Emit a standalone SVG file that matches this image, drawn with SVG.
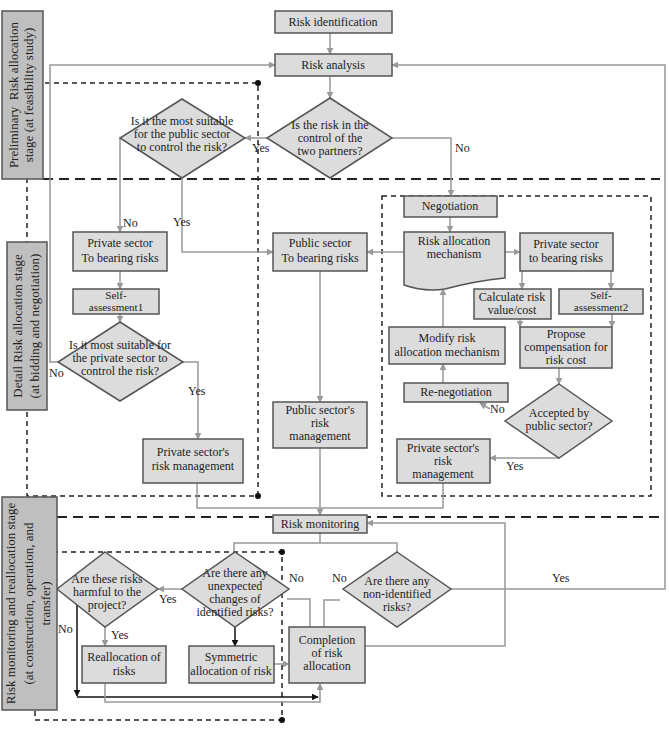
<svg xmlns="http://www.w3.org/2000/svg" width="669" height="737" viewBox="0 0 669 737">
<style>
.n{fill:#dcdcdc;stroke:#555;stroke-width:1.5}
.s{fill:#bfbfbf;stroke:#555;stroke-width:1.5}
.t{font-family:"Liberation Serif","Times New Roman",serif;font-size:12px;fill:#222;text-anchor:middle}
.ts{font-size:11px}
.st{font-family:"Liberation Serif","Times New Roman",serif;font-size:13px;fill:#222;text-anchor:middle}
.l{font-family:"Liberation Serif","Times New Roman",serif;font-size:12px;fill:#222}
.c{fill:none;stroke:#999;stroke-width:1.5}
.a{marker-end:url(#ag)}
.k{fill:none;stroke:#111;stroke-width:1.5;marker-end:url(#ak)}
.big{fill:none;stroke:#222;stroke-width:2;stroke-dasharray:10 6}
.sm{fill:none;stroke:#222;stroke-width:1.5;stroke-dasharray:5 4}
</style>
<defs>
<marker id="ag" viewBox="0 0 10 10" refX="9" refY="5" markerWidth="7" markerHeight="7" markerUnits="userSpaceOnUse" orient="auto"><path d="M0,0L10,5L0,10Z" fill="#999"/></marker>
<marker id="ak" viewBox="0 0 10 10" refX="9" refY="5" markerWidth="7" markerHeight="7" markerUnits="userSpaceOnUse" orient="auto"><path d="M0,0L10,5L0,10Z" fill="#111"/></marker>
</defs>
<rect width="669" height="737" fill="#fff"/>
<g id="frames">
<line class="big" x1="43" y1="179" x2="660" y2="179"/>
<line class="big" x1="57" y1="517" x2="660" y2="517"/>
<rect class="sm" x="27" y="83" width="231" height="413"/>
<rect class="sm" x="382" y="196" width="269" height="300"/>
<rect class="sm" x="35" y="552" width="247" height="168"/>
<circle cx="258" cy="83" r="3" fill="#111"/>
<circle cx="258" cy="496" r="3" fill="#111"/>
<circle cx="282" cy="552" r="3" fill="#111"/>
<circle cx="282" cy="720" r="3" fill="#111"/>
</g>
<g id="connectors">
<path class="c a" d="M330,33V54"/>
<path class="c a" d="M330,76V98"/>
<path class="c a" d="M267,138H245"/>
<path class="c a" d="M392,138H451V196"/>
<path class="c a" d="M120,138V232"/>
<path class="c a" d="M182,178V252H273"/>
<path class="c a" d="M404,252H367"/>
<path class="c a" d="M505,252H520"/>
<path class="c a" d="M450,217V232"/>
<path class="c a" d="M522,271V289"/>
<path class="c a" d="M611,271V289"/>
<path class="c a" d="M520,319V327"/>
<path class="c a" d="M612,314V327"/>
<path class="c a" d="M559,368V384"/>
<path class="c a" d="M443,327V289"/>
<path class="c a" d="M443,383V364"/>
<path class="c a" d="M490,409L480,403"/>
<path class="c a" d="M559,458H490"/>
<path class="c" d="M443,483V508H320"/>
<path class="c" d="M197,483V508H320"/>
<path class="c a" d="M320,271V402"/>
<path class="c a" d="M320,448V515"/>
<path class="c a" d="M120,271V289"/>
<path class="c a" d="M120,314V322"/>
<path class="c a" d="M183,362H198V439"/>
<path class="c a" d="M58,362H50V65H275"/>
<path class="c" d="M320,533V543M234,552V543H397V552"/>
<path class="c a" d="M182,589H158"/>
<path class="c a" d="M105,627V646"/>
<path class="k" d="M77,605V696"/>
<path class="k" d="M77,697H318"/>
<path class="c a" d="M105,683V702H320V684"/>
<path class="k" d="M235,627V646"/>
<path class="c a" d="M274,664H289"/>
<path class="c" d="M287,599H310V627"/>
<path class="c" d="M340,600H324V627"/>
<path class="c a" d="M451,589H665V65H392"/>
<path class="c a" d="M365,646H505V523H367"/>
</g>
<g id="labels">
<text class="l" x="252" y="152">Yes</text>
<text class="l" x="455" y="152">No</text>
<text class="l" x="123" y="227">No</text>
<text class="l" x="173" y="226">Yes</text>
<text class="l" x="49" y="377">No</text>
<text class="l" x="188" y="395">Yes</text>
<text class="l" x="490" y="413">No</text>
<text class="l" x="506" y="470">Yes</text>
<text class="l" x="159" y="603">Yes</text>
<text class="l" x="111" y="639">Yes</text>
<text class="l" x="58" y="633">No</text>
<text class="l" x="289" y="582">No</text>
<text class="l" x="332" y="582">No</text>
<text class="l" x="552" y="582">Yes</text>
</g>
<g id="risk-identification"><rect class="n" x="275" y="11" width="117" height="22"/><text class="t" x="333" y="26">Risk identification</text></g>
<g id="risk-analysis"><rect class="n" x="275" y="54" width="117" height="22"/><text class="t" x="333" y="69">Risk analysis</text></g>
<g id="d-control"><polygon class="n" points="330,98 392,138 330,178 267,138"/><text class="t" x="330" y="129">Is the risk in the</text><text class="t" x="330" y="142">control of the</text><text class="t" x="330" y="155">two partners?</text></g>
<g id="d-public"><polygon class="n" points="182,99 245,138 182,178 120,138"/><text class="t" x="182" y="125">Is it the most suitable</text><text class="t" x="182" y="138">for the public sector</text><text class="t" x="182" y="151">to control the risk?</text></g>
<g id="private-bearing-left"><rect class="n" x="73" y="232" width="94" height="39"/><text class="t" x="120" y="247">Private sector</text><text class="t" x="120" y="262">To bearing risks</text></g>
<g id="public-bearing"><rect class="n" x="273" y="233" width="94" height="38"/><text class="t" x="320" y="247">Public sector</text><text class="t" x="320" y="262">To bearing risks</text></g>
<g id="self1"><rect class="n" x="73" y="289" width="86" height="25"/><text class="t ts" x="116" y="299">Self-</text><text class="t ts" x="116" y="311">assessment1</text></g>
<g id="d-private"><polygon class="n" points="120,322 183,362 120,401 58,362"/><text class="t" x="120" y="349">Is it most suitable for</text><text class="t" x="120" y="362">the private sector to</text><text class="t" x="120" y="375">control the risk?</text></g>
<g id="private-mgmt-left"><rect class="n" x="143" y="439" width="100" height="44"/><text class="t" x="193" y="456">Private sector's</text><text class="t" x="193" y="470">risk management</text></g>
<g id="negotiation"><rect class="n" x="404" y="196" width="93" height="21"/><text class="t" x="450" y="210">Negotiation</text></g>
<g id="ram"><path class="n" d="M404,232H505V278Q475,281 445,289Q424,292 404,285Z"/><text class="t" x="454" y="245">Risk allocation</text><text class="t" x="454" y="258">mechanism</text></g>
<g id="private-bearing-right"><rect class="n" x="520" y="233" width="93" height="38"/><text class="t" x="566" y="248">Private sector</text><text class="t" x="566" y="262">to bearing risks</text></g>
<g id="calculate"><rect class="n" x="474" y="289" width="77" height="30"/><text class="t" x="512" y="301">Calculate risk</text><text class="t" x="512" y="314">value/cost</text></g>
<g id="self2"><rect class="n" x="559" y="289" width="84" height="25"/><text class="t ts" x="601" y="299">Self-</text><text class="t ts" x="601" y="311">assessment2</text></g>
<g id="propose"><rect class="n" x="520" y="327" width="92" height="41"/><text class="t" x="566" y="338">Propose</text><text class="t" x="566" y="351">compensation for</text><text class="t" x="566" y="364">risk cost</text></g>
<g id="modify"><rect class="n" x="389" y="327" width="116" height="37"/><text class="t" x="447" y="342">Modify risk</text><text class="t" x="447" y="356">allocation mechanism</text></g>
<g id="renegotiation"><rect class="n" x="404" y="383" width="104" height="19"/><text class="t" x="456" y="396">Re-negotiation</text></g>
<g id="d-accepted"><polygon class="n" points="559,384 612,421 559,458 505,421"/><text class="t" x="559" y="417">Accepted by</text><text class="t" x="559" y="430">public sector?</text></g>
<g id="private-mgmt-right"><rect class="n" x="397" y="439" width="93" height="44"/><text class="t" x="443" y="452">Private sector's</text><text class="t" x="443" y="465">risk</text><text class="t" x="443" y="478">management</text></g>
<g id="public-mgmt"><rect class="n" x="273" y="402" width="94" height="46"/><text class="t" x="320" y="414">Public sector's</text><text class="t" x="320" y="427">risk</text><text class="t" x="320" y="440">management</text></g>
<g id="risk-monitoring"><rect class="n" x="273" y="515" width="94" height="18"/><text class="t" x="320" y="528">Risk monitoring</text></g>
<g id="d-harmful"><polygon class="n" points="105,552 158,589 105,627 57,589"/><text class="t" x="107" y="583">Are these risks</text><text class="t" x="107" y="596">harmful to the</text><text class="t" x="107" y="609">project?</text></g>
<g id="d-unexpected"><polygon class="n" points="235,552 289,589 235,627 182,589"/><text class="t" x="235" y="577">Are there any</text><text class="t" x="235" y="590">unexpected</text><text class="t" x="235" y="603">changes of</text><text class="t" x="235" y="616">identified risks?</text></g>
<g id="d-nonidentified"><polygon class="n" points="397,552 451,589 397,627 343,589"/><text class="t" x="397" y="585">Are there any</text><text class="t" x="397" y="598">non-identified</text><text class="t" x="397" y="611">risks?</text></g>
<g id="reallocation"><rect class="n" x="82" y="646" width="84" height="37"/><text class="t" x="124" y="661">Reallocation of</text><text class="t" x="124" y="675">risks</text></g>
<g id="symmetric"><rect class="n" x="189" y="646" width="85" height="37"/><text class="t" x="231" y="661">Symmetric</text><text class="t" x="231" y="675">allocation of risk</text></g>
<g id="completion"><rect class="n" x="289" y="627" width="76" height="56"/><text class="t" x="327" y="644">Completion</text><text class="t" x="327" y="657">of risk</text><text class="t" x="327" y="670">allocation</text></g>
<g id="stage1"><rect class="s" x="2" y="11" width="41" height="168"/><g transform="translate(22.5,95) rotate(-90)"><text class="st" x="0" y="-5" xml:space="preserve">Preliminary  Risk allocation</text><text class="st" x="0" y="10">stage (at feasibility study)</text></g></g>
<g id="stage2"><rect class="s" x="7" y="242" width="40" height="168"/><g transform="translate(27,326) rotate(-90)"><text class="st" x="0" y="-5">Detail Risk allocation stage</text><text class="st" x="0" y="12">(at bidding and negotiation)</text></g></g>
<g id="stage3"><rect class="s" x="2" y="497" width="55" height="213"/><g transform="translate(29.5,603.5) rotate(-90)"><text class="st" x="0" y="-15">Risk monitoring and reallocation stage</text><text class="st" x="0" y="3">(at construction, operation, and</text><text class="st" x="0" y="20">transfer)</text></g></g>
</svg>
